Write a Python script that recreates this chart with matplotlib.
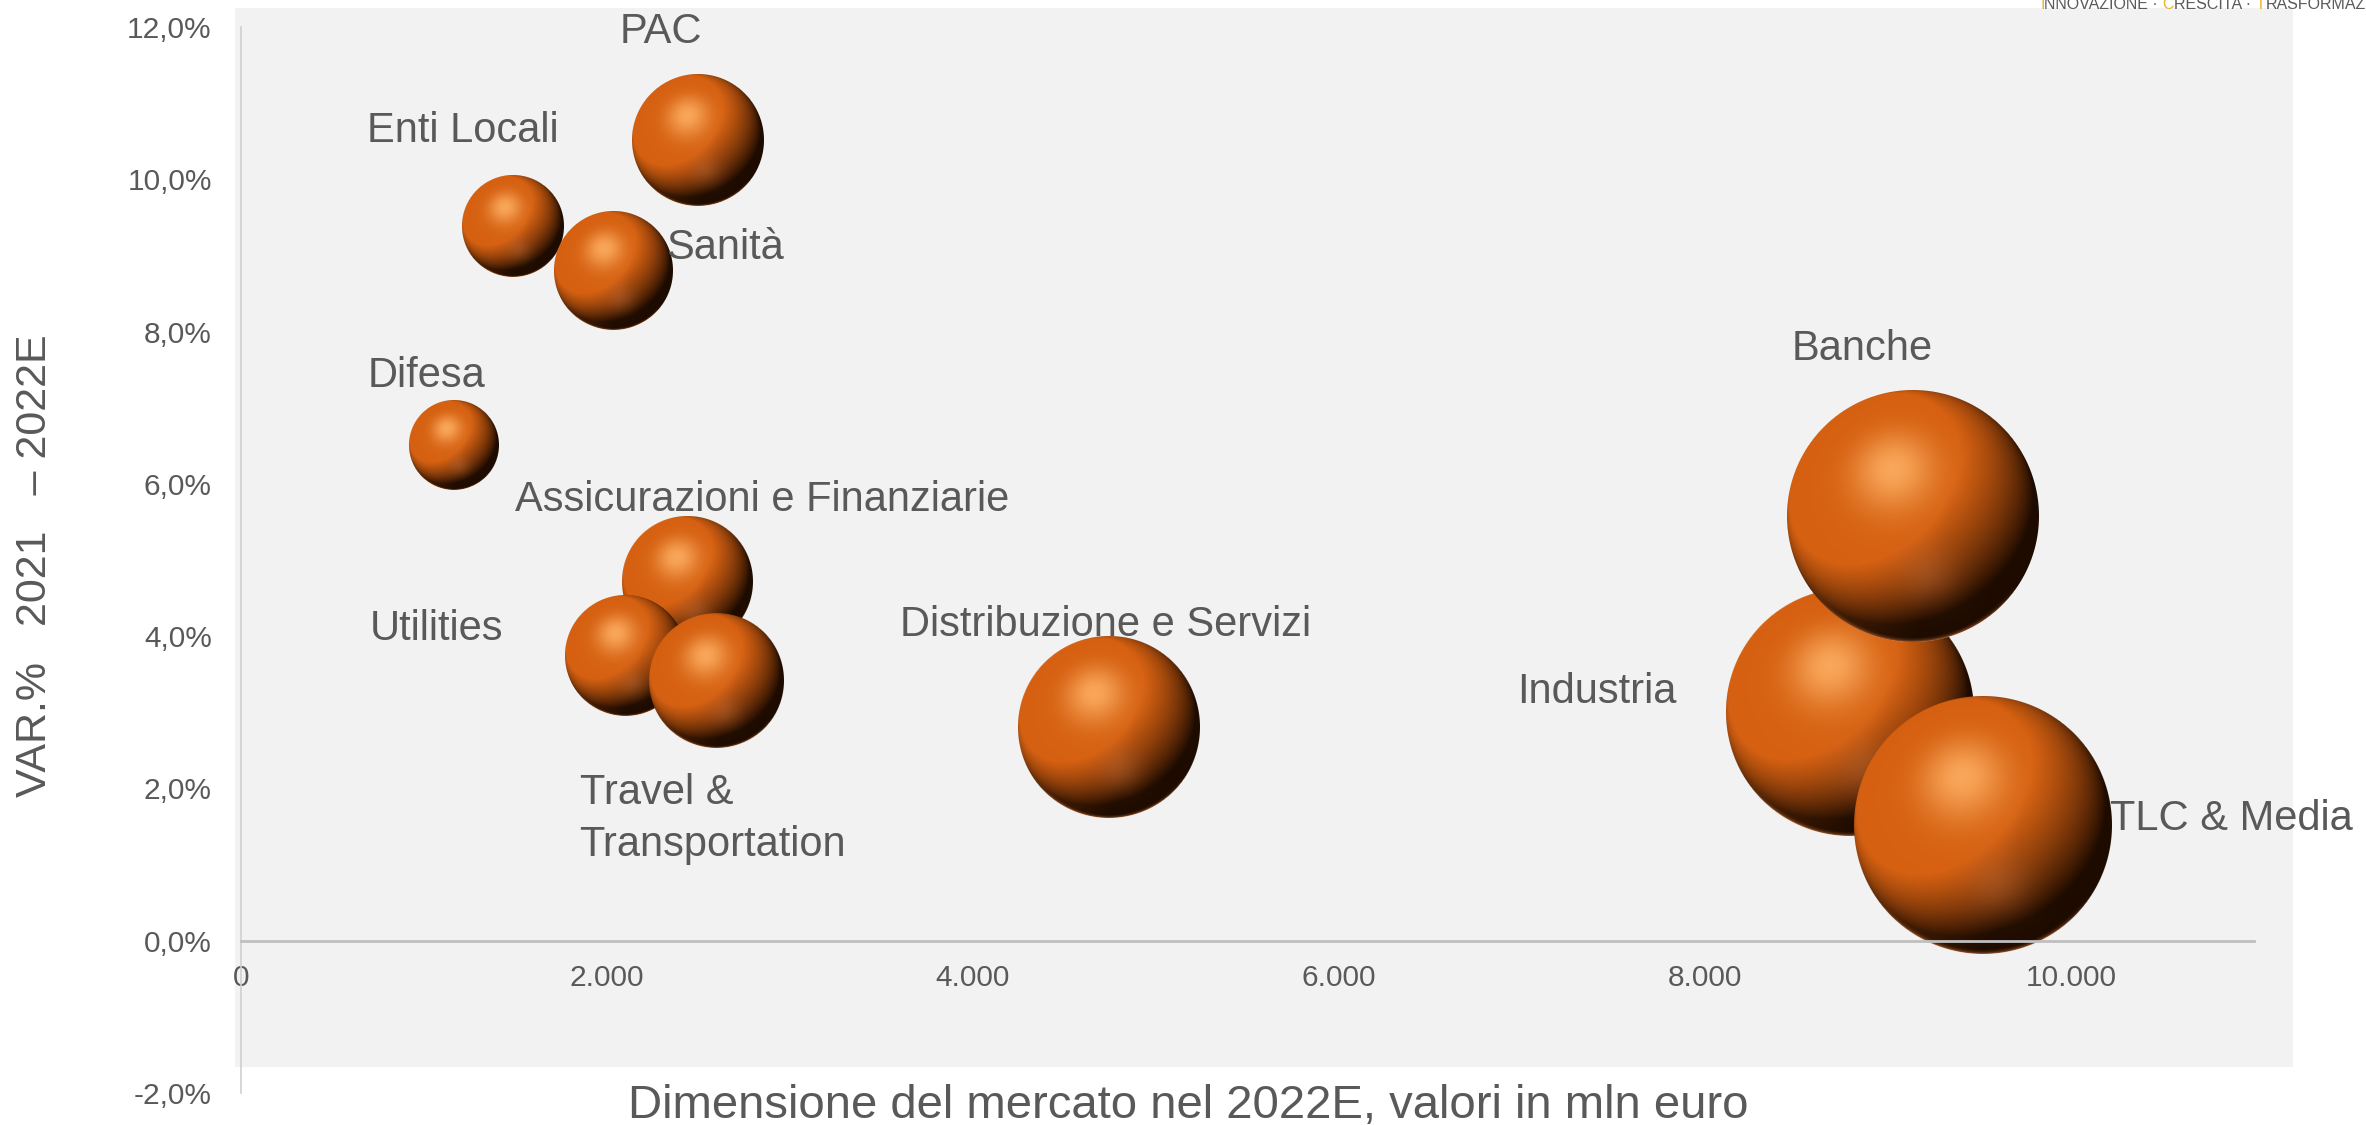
import numpy as np
import matplotlib
matplotlib.use("Agg")
import matplotlib.pyplot as plt
from matplotlib.patches import Rectangle

# ---------------- data ----------------
categories = ["Difesa", "Enti Locali", "Sanità", "PAC", "Assicurazioni e Finanziarie",
              "Utilities", "Travel &\nTransportation", "Distribuzione e Servizi",
              "Industria", "Banche", "TLC & Media"]
market_2022 = [1163, 1488, 2037, 2494, 2437, 2098, 2599, 4739, 8792, 9136, 9517]   # mln euro
var_pct = [6.51, 9.38, 8.80, 10.51, 4.71, 3.75, 3.41, 2.80, 3.00, 5.58, 1.51]        # %
bubble_size = [1163, 1488, 2037, 2494, 2437, 2098, 2599, 4739, 8792, 9136, 9517]     # bubble size = market

x_ticks = [0, 2000, 4000, 6000, 8000, 10000]
y_ticks = [-2, 0, 2, 4, 6, 8, 10, 12]

# label offsets (pixels, left edge / baseline relative to bubble centre)
label_offsets = {
    "Difesa": (-86, 58),
    "Enti Locali": (-146, 84),
    "Sanità": (52, 12),
    "PAC": (-78, 97),
    "Assicurazioni e Finanziarie": (-172, 71),
    "Utilities": (-255, 15),
    "Distribuzione e Servizi": (-208, 92),
    "Industria": (-333, 9),
    "Banche": (-121, 156),
    "TLC & Media": (127, -4),
}

TXT = "#595959"
FONT = "Liberation Sans"
plt.rcParams["font.family"] = [FONT, "DejaVu Sans"]

W, H = 2366, 1125
fig = plt.figure(figsize=(W / 100, H / 100), dpi=100)
fig.patch.set_facecolor("white")

# plot-area grey background
fig.patches.append(Rectangle((235 / W, (H - 1067) / H), (2293 - 235) / W, (1067 - 8) / H,
                             transform=fig.transFigure, facecolor="#F2F2F2",
                             edgecolor="none", zorder=-10))

ax = fig.add_axes([241 / W, (H - 1093) / H, (2254 - 241) / W, (1093 - 27) / H])
ax.set_facecolor("none")
ax.set_xlim(0, 11000)
ax.set_ylim(-2, 12)

for s in ["top", "right"]:
    ax.spines[s].set_visible(False)
ax.spines["left"].set_color("#D0D0D0")
ax.spines["left"].set_linewidth(1.2)
ax.spines["bottom"].set_position(("data", 0))
ax.spines["bottom"].set_color("#BFBFBF")
ax.spines["bottom"].set_linewidth(2.0)

ax.set_xticks(x_ticks)
ax.set_xticklabels([f"{v:,.0f}".replace(",", ".") for v in x_ticks])
ax.set_yticks(y_ticks)
ax.set_yticklabels([f"{v:.1f}%".replace(".", ",") for v in y_ticks])
ax.tick_params(axis="both", length=0, labelsize=21.5, labelcolor=TXT)
ax.tick_params(axis="x", pad=17)
ax.tick_params(axis="y", pad=21)


def sphere_rgba(n):
    yy, xx = np.mgrid[0:n, 0:n]
    u = (xx + 0.5) / n * 2 - 1
    v = 1 - (yy + 0.5) / n * 2
    rr = u * u + v * v
    rad = np.sqrt(rr)
    z = np.sqrt(np.clip(1 - rr, 0, 1))

    def nrm(a):
        a = np.array(a, float)
        return a / np.linalg.norm(a)

    L1 = nrm([-0.3, 0.5, 0.8])
    L2 = nrm([-1.0, 0.1, 0.3])
    d1 = np.clip(u * L1[0] + v * L1[1] + z * L1[2], 0, 1)
    d2 = np.clip(u * L2[0] + v * L2[1] + z * L2[2], 0, 1)
    f = np.clip(d1 * 1.3 + 0.35 * d2, 0, 1)
    dark = np.array([0.12, 0.045, 0.0])
    bright = np.array([0.84, 0.38, 0.07])
    col = dark[None, None, :] + (bright - dark)[None, None, :] * f[..., None] ** 1.05

    # soft lower reflection
    spot = np.exp(-((u - 0.12) ** 2 + (v + 0.45) ** 2) / 0.05) * 0.35
    col = col * (1 - spot[..., None]) + np.array([0.75, 0.42, 0.22]) * spot[..., None]

    # specular highlight
    Hh = nrm([-0.16, 0.37, 0.915])
    s = np.clip(u * Hh[0] + v * Hh[1] + z * Hh[2], 0, 1) ** 18 * 0.85
    col = col * (1 - s[..., None]) + np.array([1.0, 0.70, 0.40]) * s[..., None]

    # bottom rim light
    rim = np.clip(1 - z / 0.28, 0, 1) ** 1.5 * np.clip((-v - 0.55) / 0.35, 0, 1)
    rim = rim * 0.9
    col = col * (1 - rim[..., None]) + np.array([0.93, 0.55, 0.30]) * rim[..., None]

    alpha = np.clip((1 - rad) * n / 2 + 0.5, 0, 1)
    img = np.dstack([np.clip(col, 0, 1), alpha])
    return img


BUBBLE_SCALE = 1.318  # px of radius per sqrt(mln euro)
p0 = ax.transData.transform((0, 0))
p1 = ax.transData.transform((1000, 1))
sx = (p1[0] - p0[0]) / 1000.0
sy = (p1[1] - p0[1]) / 1.0

for i, (name, xv, yv, sz) in enumerate(zip(categories, market_2022, var_pct, bubble_size)):
    r_px = BUBBLE_SCALE * np.sqrt(sz)
    n = int(round(2 * r_px))
    img = sphere_rgba(n)
    rx = r_px / sx
    ry = r_px / sy
    ax.imshow(img, extent=(xv - rx, xv + rx, yv - ry, yv + ry), origin="upper",
              interpolation="antialiased", zorder=2 + i * 0.01, aspect="auto")

ax.set_xlim(0, 11000)
ax.set_ylim(-2, 12)

for name, xv, yv in zip(categories, market_2022, var_pct):
    if name.startswith("Travel"):
        lines = name.split("\n")
        ax.annotate(lines[0], xy=(xv, yv), xytext=(-137, -123), textcoords="offset pixels",
                    ha="left", va="baseline", fontsize=30, color=TXT, zorder=5,
                    annotation_clip=False)
        ax.annotate(lines[1], xy=(xv, yv), xytext=(-137, -175), textcoords="offset pixels",
                    ha="left", va="baseline", fontsize=30, color=TXT, zorder=5,
                    annotation_clip=False)
        continue
    dx, dy = label_offsets[name]
    ax.annotate(name, xy=(xv, yv), xytext=(dx, dy), textcoords="offset pixels",
                ha="left", va="baseline", fontsize=30, color=TXT, zorder=5,
                annotation_clip=False)

# axis titles
fig.text(1188 / W, (H - 1118) / H, "Dimensione del mercato nel 2022E, valori in mln euro",
         ha="center", va="baseline", fontsize=34, color=TXT)
fig.text(35 / W, (H - 566) / H, "VAR.%   2021   – 2022E", rotation=90,
         ha="center", va="center", fontsize=31, color=TXT)

# cropped logo strip at the top right
pieces = [("I", "#E9B52C"), ("NNOVAZIONE · ", "#5A5A5A"), ("C", "#E9B52C"),
          ("RESCITA · ", "#5A5A5A"), ("T", "#E9B52C"), ("RASFORMAZ", "#5A5A5A")]
prev = fig.text(2040 / W, (H - 12) / H, pieces[0][0], ha="left", va="bottom",
                fontsize=11.5, color=pieces[0][1])
for txt, c in pieces[1:]:
    prev = fig.add_artist(matplotlib.text.Annotation(
        txt, xy=(1, 0), xycoords=prev, xytext=(0, 0), textcoords="offset pixels",
        ha="left", va="bottom", fontsize=11.5, color=c, annotation_clip=False))

fig.savefig("out.png", dpi=100)
